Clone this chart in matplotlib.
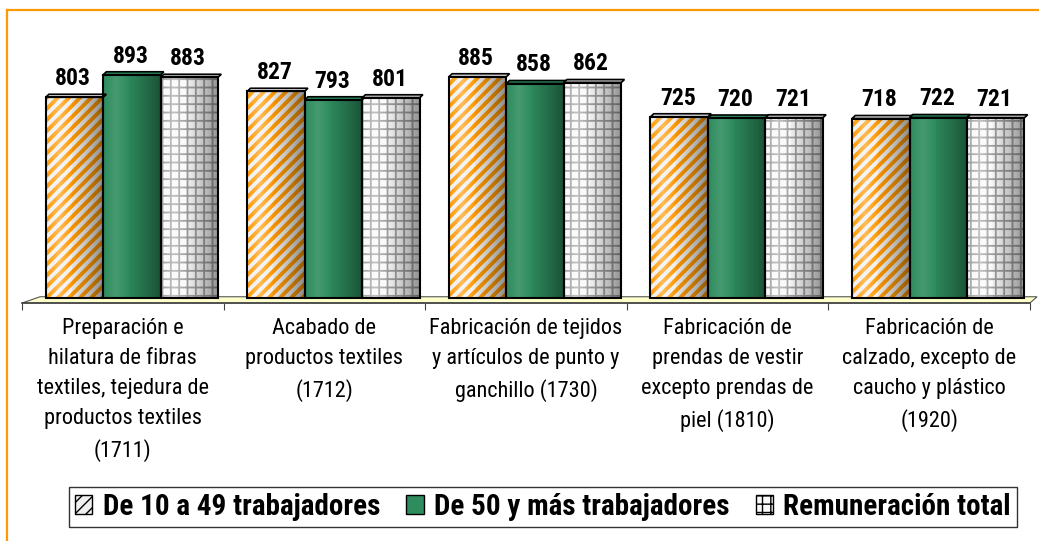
import matplotlib.pyplot as plt
from matplotlib.patches import Patch, Polygon
from matplotlib.lines import Line2D
import numpy as np

categorias = [
    "Preparación e\nhilatura de fibras\ntextiles, tejedura de\nproductos textiles\n(1711)",
    "Acabado de\nproductos textiles\n(1712)",
    "Fabricación de tejidos\ny artículos de punto y\nganchillo (1730)",
    "Fabricación de\nprendas de vestir\nexcepto prendas de\npiel (1810)",
    "Fabricación de\ncalzado, excepto de\ncaucho y plástico\n(1920)",
]
series = ["De 10 a 49 trabajadores", "De 50 y más trabajadores", "Remuneración total"]
pequenas = [803, 827, 885, 725, 718]
grandes = [893, 793, 858, 720, 722]
total = [883, 801, 862, 721, 721]
valores = [pequenas, grandes, total]

fuente = ["Roboto Condensed", "DejaVu Sans"]
plt.rcParams["font.family"] = fuente

naranja = "#FF9900"
estilos = [
    dict(face="#f0f0f0", hatch="///", hcol=naranja, top="#dddddd", hlw=2.8, luz=0.35),
    dict(face="#2e8c5e", hatch=None, hcol="#2e8c5e", top="#2a8a5a", hlw=1.0, luz=0.12),
    dict(face="#fafafa", hatch="++", hcol="#a0a0a0", top="#bbbbbb", hlw=1.3, luz=0.35),
]

W, H = 1039, 541
fig = plt.figure(figsize=(W / 100, H / 100), dpi=100)
ax = fig.add_axes([22 / W, 1 - 303 / H, (1030 - 22) / W, (303 - 40) / H])

# sombreado cilindrico
t = np.linspace(0, 1, 80)
hi = np.clip(1 - np.abs(t - 0.22) / 0.22, 0, 1)
sh = np.clip((t - 0.35) / 0.65, 0, 1)

def sombra(luz):
    g = np.zeros((1, 80, 4))
    g[0, :, :3] = np.where(t[:, None] < 0.44, 1.0, 0.0)
    g[0, :, 3] = np.where(t < 0.44, luz * hi, 0.42 * sh ** 1.2)
    return g

ancho = 0.285
x = np.arange(len(categorias))
dx, dy = 0.016, 12
for i, (vals, st) in enumerate(zip(valores, estilos)):
    pos = x + (i - 1) * ancho + 0.045
    grad = sombra(st["luz"])
    with plt.rc_context({"hatch.linewidth": st["hlw"]}):
        ax.bar(pos, vals, ancho, color=st["face"], edgecolor=st["hcol"],
               hatch=st["hatch"], linewidth=0, zorder=2)
    for p, v in zip(pos, vals):
        ax.imshow(grad, extent=(p - ancho / 2, p + ancho / 2, 0, v),
                  aspect="auto", zorder=3, interpolation="bilinear")
        top = Polygon([(p - ancho / 2, v), (p + ancho / 2, v),
                       (p + ancho / 2 + dx, v + dy), (p - ancho / 2 + dx, v + dy)],
                      closed=True, facecolor=st["top"], edgecolor="black",
                      linewidth=1.2, zorder=4)
        ax.add_patch(top)
        ax.annotate(str(v), (p, v + dy), xytext=(-1, 3), textcoords="offset points",
                    ha="center", va="bottom", fontsize=17, fontweight="bold", zorder=5)
    ax.bar(pos, vals, ancho, fill=False, edgecolor="black", linewidth=1.5, zorder=4)

ax.set_aspect("auto")
ax.set_xlim(-0.5, 4.5)
ax.set_ylim(-20, 1032)

# piso 3D
piso = Polygon([(-0.5, -20), (4.5, -20), (4.535, 5), (-0.41, 5)], closed=True,
               facecolor="#ffffcc", edgecolor="#555555", linewidth=0.8,
               clip_on=False, zorder=1)
ax.add_patch(piso)

for s in ["top", "right", "left"]:
    ax.spines[s].set_visible(False)
ax.spines["bottom"].set_color("#444444")
ax.spines["bottom"].set_linewidth(1.2)
ax.set_yticks([])
ax.set_xticks(np.arange(-0.5, 4.6, 1))
ax.set_xticklabels([])
ax.tick_params(axis="x", which="major", length=5, color="#444444")
ax.set_xticks(x, minor=True)
ax.set_xticklabels(categorias, minor=True, fontsize=16, linespacing=1.56)
ax.tick_params(axis="x", which="minor", length=0, pad=11)

handles = []
for st in estilos:
    with plt.rc_context({"hatch.linewidth": 1.3}):
        handles.append(Patch(facecolor=st["face"], edgecolor=st["hcol"],
                             hatch=st["hatch"], linewidth=0))
leg = fig.legend(handles, series, loc="center", bbox_to_anchor=(543 / W, 1 - 507 / H),
                 ncol=3, frameon=True, fancybox=False, edgecolor="black",
                 prop={"weight": "bold", "size": 21, "family": fuente},
                 handlelength=0.6, handleheight=0.6, handletextpad=0.35,
                 columnspacing=0.9, borderpad=0.2)
leg.get_frame().set_linewidth(1.0)
for h in leg.legend_handles:
    h.set_edgecolor("black")
    h.set_linewidth(1.0)

# marco naranja
fig.add_artist(Line2D([7 / W, 7 / W], [0, 1 - 10 / H], color=naranja, lw=1.6))
fig.add_artist(Line2D([7 / W, 1], [1 - 10 / H, 1 - 10 / H], color=naranja, lw=1.6))

fig.savefig("out.png", dpi=100)
